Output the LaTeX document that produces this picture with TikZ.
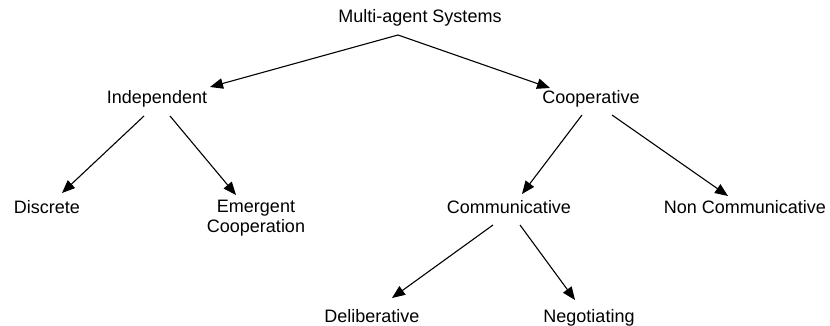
\documentclass[tikz,border=0pt]{standalone}
\usepackage{fontspec}
\setmainfont{Liberation Sans}
\usetikzlibrary{arrows.meta}

\begin{document}
\begin{tikzpicture}[x=1pt,y=-1pt,
		label/.style={inner sep=0pt,font=\fontsize{18}{20}\selectfont},
		arr/.style={-{Triangle[length=13pt,width=10.5pt]},line width=1.1pt}]
		\useasboundingbox (0,0) rectangle (830,326);
		% Tree labels
		\node[label,anchor=base] (mas) at (420,23) {Multi-agent Systems};
		\node[label,anchor=base] (ind) at (157,104) {Independent};
		\node[label,anchor=base] (coop) at (591,104) {Cooperative};
		\node[label,anchor=base] (disc) at (47,213) {Discrete};
		\node[label,anchor=north,align=center] (emer) at (256,200) {Emergent\\Cooperation};
		\node[label,anchor=base] (comm) at (509,213) {Communicative};
		\node[label,anchor=base] (ncom) at (745,213) {Non Communicative};
		\node[label,anchor=base] (delib) at (372,322) {Deliberative};
		\node[label,anchor=base] (nego) at (589,322) {Negotiating};
		% Arrows
		\draw[arr] ([shift={(-22,12)}]mas.base) -- ([shift={(53,-17)}]ind.base);
		\draw[arr] ([shift={(-22,12)}]mas.base) -- ([shift={(-41,-16)}]coop.base);
		\draw[arr] ([shift={(-13,12)}]ind.base) -- ([shift={(15,-20)}]disc.base);
		\draw[arr] ([shift={(13,12)}]ind.base) -- ([shift={(-20,-5)}]emer.north);
		\draw[arr] ([shift={(-9,11)}]coop.base) -- ([shift={(13,-19)}]comm.base);
		\draw[arr] ([shift={(21,11)}]coop.base) -- ([shift={(-17,-17)}]ncom.base);
		\draw[arr] ([shift={(-16,12)}]comm.base) -- ([shift={(20,-24)}]delib.base);
		\draw[arr] ([shift={(11,12)}]comm.base) -- ([shift={(-14,-22)}]nego.base);
	\end{tikzpicture}
\end{document}
